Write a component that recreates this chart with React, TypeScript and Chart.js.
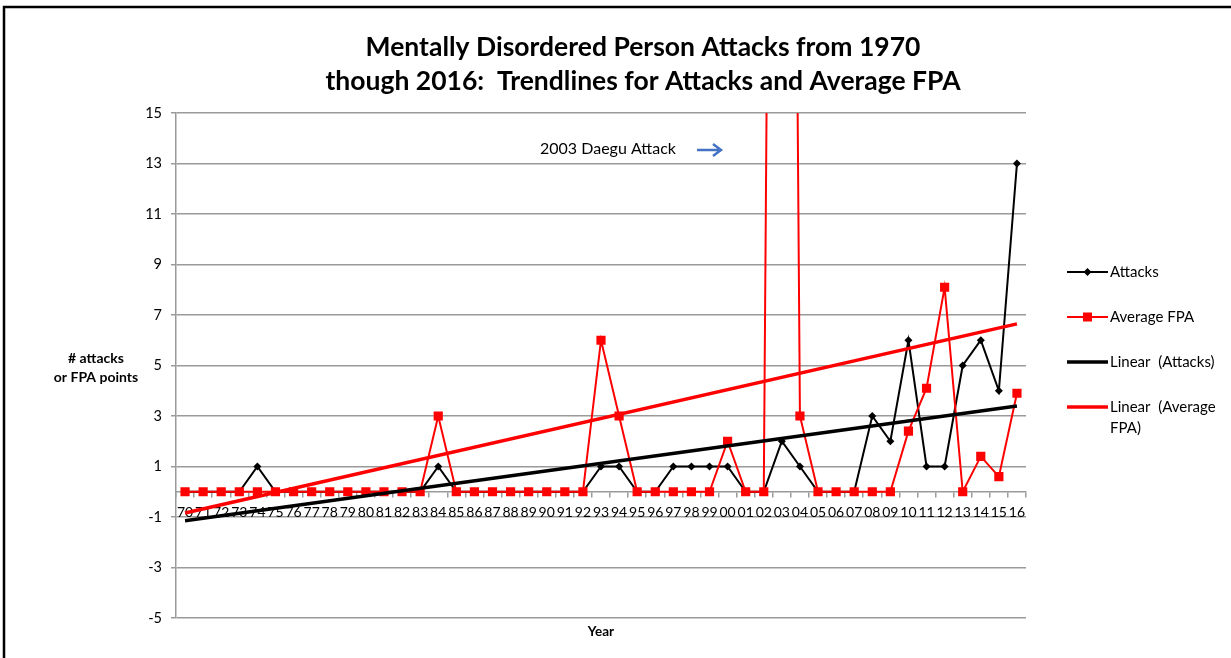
import React, { useEffect, useRef } from 'react';
import { Chart, registerables } from 'chart.js';

Chart.register(...registerables);

const years = ['70','71','72','73','74','75','76','77','78','79','80','81','82','83','84','85','86','87','88','89','90','91','92','93','94','95','96','97','98','99','00','01','02','03','04','05','06','07','08','09','10','11','12','13','14','15','16'];
const attacks = [0,0,0,0,1,0,0,0,0,0,0,0,0,0,1,0,0,0,0,0,0,0,0,1,1,0,0,1,1,1,1,0,0,2,1,0,0,0,3,2,6,1,1,5,6,4,13];
const averageFpa = [0,0,0,0,0,0,0,0,0,0,0,0,0,0,3,0,0,0,0,0,0,0,0,6,3,0,0,0,0,0,2,0,0,98,3,0,0,0,0,0,2.4,4.1,8.1,0,1.4,0.6,3.9];
const attacksTrendEnds = [-1.15, 3.4];
const fpaTrendEnds = [-0.84, 6.65];
const yTickValues = [-5, -3, -1, 1, 3, 5, 7, 9, 11, 13, 15];
const titleLines = ['Mentally Disordered Person Attacks from 1970', 'though 2016:  Trendlines for Attacks and Average FPA'];
const yAxisTitleLines = ['# attacks', 'or FPA points'];
const xAxisTitle = 'Year';
const annotationText = '2003 Daegu Attack';
const legendLabels = ['Attacks', 'Average FPA', 'Linear  (Attacks)', 'Linear  (Average', 'FPA)'];

const FONT = 'Lato, "Open Sans", sans-serif';
const GRID = '#9a9a9a';

function trendSeries(ends: number[]) {
  const arr: (number | null)[] = years.map(() => null);
  arr[0] = ends[0];
  arr[arr.length - 1] = ends[1];
  return arr;
}

const decorPlugin = {
  id: 'decor',
  afterDraw(chart: any) {
    const ctx = chart.ctx as CanvasRenderingContext2D;
    ctx.save();
    // frame
    ctx.strokeStyle = '#000';
    ctx.lineWidth = 2.5;
    ctx.strokeRect(4, 7, 1260, 700);
    // title
    ctx.fillStyle = '#000';
    ctx.textAlign = 'center';
    ctx.textBaseline = 'middle';
    ctx.font = `bold 26.5px ${FONT}`;
    ctx.fillText(titleLines[0], 643, 47);
    ctx.fillText(titleLines[1], 643, 81);
    // y axis title
    ctx.font = `bold 14px ${FONT}`;
    ctx.fillText(yAxisTitleLines[0], 96, 358);
    ctx.fillText(yAxisTitleLines[1], 96, 377);
    // x axis title
    ctx.font = `bold 13.5px ${FONT}`;
    ctx.fillText(xAxisTitle, 601, 632);
    // annotation
    ctx.font = `16px ${FONT}`;
    ctx.textAlign = 'left';
    ctx.fillText(annotationText, 540, 149);
    ctx.strokeStyle = '#4472c4';
    ctx.lineWidth = 2.5;
    ctx.beginPath();
    ctx.moveTo(697, 150);
    ctx.lineTo(720, 150);
    ctx.moveTo(713, 144);
    ctx.lineTo(721, 150);
    ctx.lineTo(713, 156);
    ctx.stroke();
    // legend
    const lx0 = 1067, lx1 = 1108, tx = 1110;
    const rows = [272, 317, 362, 407];
    ctx.font = `15px ${FONT}`;
    ctx.fillStyle = '#000';
    const styles = [
      { color: '#000', w: 2, marker: 'diamond' },
      { color: '#ff0000', w: 2, marker: 'square' },
      { color: '#000', w: 3.5, marker: '' },
      { color: '#ff0000', w: 3.5, marker: '' },
    ];
    rows.forEach((y, i) => {
      const s = styles[i];
      ctx.strokeStyle = s.color;
      ctx.lineWidth = s.w;
      ctx.beginPath();
      ctx.moveTo(lx0, y);
      ctx.lineTo(lx1, y);
      ctx.stroke();
      ctx.fillStyle = s.color;
      const cx = (lx0 + lx1) / 2;
      if (s.marker === 'diamond') {
        ctx.beginPath();
        ctx.moveTo(cx, y - 4);
        ctx.lineTo(cx + 4, y);
        ctx.lineTo(cx, y + 4);
        ctx.lineTo(cx - 4, y);
        ctx.closePath();
        ctx.fill();
      } else if (s.marker === 'square') {
        ctx.fillRect(cx - 4.5, y - 4.5, 9, 9);
      }
      ctx.fillStyle = '#000';
      ctx.fillText(legendLabels[i], tx, y);
    });
    ctx.fillText(legendLabels[4], tx, 428);
    ctx.restore();
  },
};

export default function App() {
  const canvasRef = useRef<HTMLCanvasElement | null>(null);

  useEffect(() => {
    if (!canvasRef.current) return;
    Chart.defaults.font.family = FONT;
    const chart = new Chart(canvasRef.current, {
      type: 'line',
      data: {
        labels: years,
        datasets: [
          {
            label: 'Linear  (Attacks)',
            data: trendSeries(attacksTrendEnds),
            borderColor: '#000',
            borderWidth: 3.5,
            pointRadius: 0,
            spanGaps: true,
            order: 0,
          },
          {
            label: 'Linear  (Average FPA)',
            data: trendSeries(fpaTrendEnds),
            borderColor: '#ff0000',
            borderWidth: 3.5,
            pointRadius: 0,
            spanGaps: true,
            order: 0,
          },
          {
            label: 'Average FPA',
            data: averageFpa,
            borderColor: '#ff0000',
            backgroundColor: '#ff0000',
            borderWidth: 2,
            pointStyle: 'rect',
            pointRadius: 6.5,
            pointBorderWidth: 0,
            order: 1,
          },
          {
            label: 'Attacks',
            data: attacks,
            borderColor: '#000',
            backgroundColor: '#000',
            borderWidth: 2,
            pointStyle: 'rectRot',
            pointRadius: 4,
            pointBorderWidth: 0,
            order: 2,
          },
        ],
      },
      options: {
        animation: false,
        responsive: false,
        maintainAspectRatio: false,
        layout: { padding: { left: 0, top: 113, right: 205, bottom: 40 } },
        plugins: {
          legend: { display: false },
          title: { display: false },
          tooltip: { enabled: false },
        },
        scales: {
          x: {
            type: 'category',
            offset: true,
            position: { y: 0 } as any,
            grid: { drawOnChartArea: false, drawTicks: true, tickLength: 5, color: GRID, lineWidth: 1.5, offset: true },
            border: { color: GRID, width: 1.5 },
            ticks: { autoSkip: false, maxRotation: 0, minRotation: 0, color: '#000', font: { size: 14, family: FONT }, padding: 7 },
            afterFit: (scale: any) => { scale.height = 0; },
          },
          y: {
            type: 'linear',
            min: -5,
            max: 15,
            grid: { color: GRID, lineWidth: 1.5, tickLength: 5 },
            border: { color: GRID, width: 1.5 },
            ticks: { color: '#000', font: { size: 14.5, family: FONT }, padding: 9 },
            afterBuildTicks: (scale: any) => { scale.ticks = yTickValues.map((v) => ({ value: v })); },
            afterFit: (scale: any) => { scale.width = 176; },
          },
        },
      },
      plugins: [decorPlugin],
    });
    return () => chart.destroy();
  }, []);

  return (
    <div style={{ position: 'absolute', left: 0, top: 0, width: 1231, height: 658, background: '#fff' }}>
      <canvas ref={canvasRef} width={1231} height={658} style={{ display: 'block' }} />
    </div>
  );
}
